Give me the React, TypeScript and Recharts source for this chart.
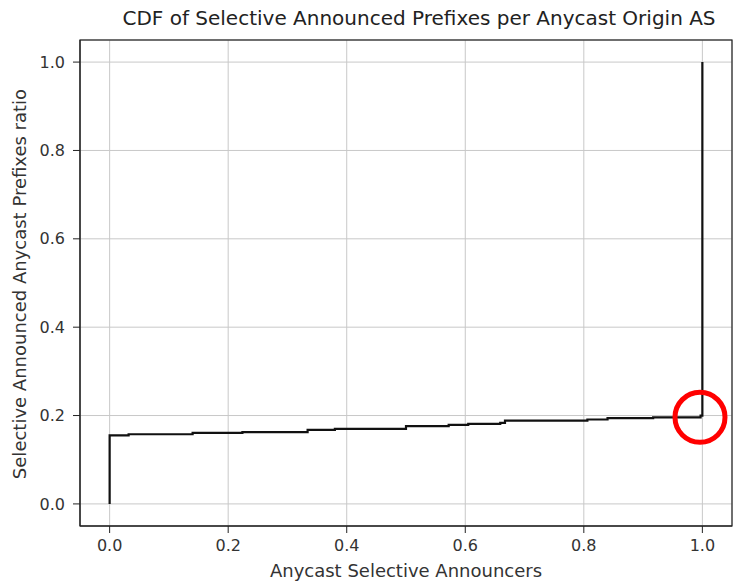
import React from "react";
import { LineChart, Line, XAxis, YAxis, CartesianGrid, ReferenceDot } from "recharts";

const cdfX = [0, 0, 0.032, 0.14, 0.224, 0.334, 0.38, 0.5, 0.572, 0.605, 0.659, 0.667, 0.806, 0.84, 0.917, 0.997, 1.0];
const cdfY = [0, 0.155, 0.1577, 0.161, 0.1625, 0.1676, 0.170, 0.176, 0.179, 0.181, 0.1835, 0.1887, 0.191, 0.194, 0.196, 0.2, 1.0];
const xTicks = [0, 0.2, 0.4, 0.6, 0.8, 1.0];
const yTicks = [0, 0.2, 0.4, 0.6, 0.8, 1.0];

const titleText = "CDF of Selective Announced Prefixes per Anycast Origin AS";
const xLabelText = "Anycast Selective Announcers";
const yLabelText = "Selective Announced Anycast Prefixes ratio";

const data = cdfX.map((x, i) => ({ x, y: cdfY[i] }));

const FONT = "'DejaVu Sans', sans-serif";

export default function App() {
  return (
    <div style={{ position: "absolute", left: 0, top: 0, width: 734, height: 582, background: "#fff" }}>
      <LineChart width={734} height={582} data={data} margin={{ top: 40, right: 2, bottom: 0, left: 0 }}>
        <CartesianGrid stroke="#c8c8c8" strokeWidth={1} />
        <XAxis
          dataKey="x"
          type="number"
          domain={[-0.05, 1.05]}
          ticks={xTicks}
          tickFormatter={(v: number) => v.toFixed(1)}
          height={56}
          tickSize={7}
          tickMargin={7}
          axisLine={{ stroke: "#222" }}
          tickLine={{ stroke: "#222" }}
          tick={{ fill: "#333", fontSize: 16, fontFamily: FONT }}
          allowDataOverflow
        />
        <YAxis
          type="number"
          domain={[-0.05, 1.05]}
          ticks={yTicks}
          tickFormatter={(v: number) => v.toFixed(1)}
          width={80}
          tickSize={7}
          tickMargin={8}
          axisLine={{ stroke: "#222" }}
          tickLine={{ stroke: "#222" }}
          tick={{ fill: "#333", fontSize: 16, fontFamily: FONT }}
          allowDataOverflow
        />
        <Line
          type="stepAfter"
          dataKey="y"
          stroke="#111"
          strokeWidth={2.2}
          dot={false}
          isAnimationActive={false}
        />
        <ReferenceDot x={0.996} y={0.196} r={25} fill="none" stroke="#ff0000" strokeWidth={5} />
      </LineChart>
      <svg
        width={734}
        height={582}
        style={{ position: "absolute", left: 0, top: 0, pointerEvents: "none" }}
      >
        <rect x={80} y={40} width={652} height={486} fill="none" stroke="#222" strokeWidth={1.2} />
        <text x={419} y={25} textAnchor="middle" fontSize={20} fontFamily={FONT} fill="#222">
          {titleText}
        </text>
        <text x={406} y={577} textAnchor="middle" fontSize={18} fontFamily={FONT} fill="#333">
          {xLabelText}
        </text>
        <text
          x={0}
          y={0}
          transform="translate(26,284) rotate(-90)"
          textAnchor="middle"
          fontSize={18}
          fontFamily={FONT}
          fill="#333"
        >
          {yLabelText}
        </text>
      </svg>
    </div>
  );
}
